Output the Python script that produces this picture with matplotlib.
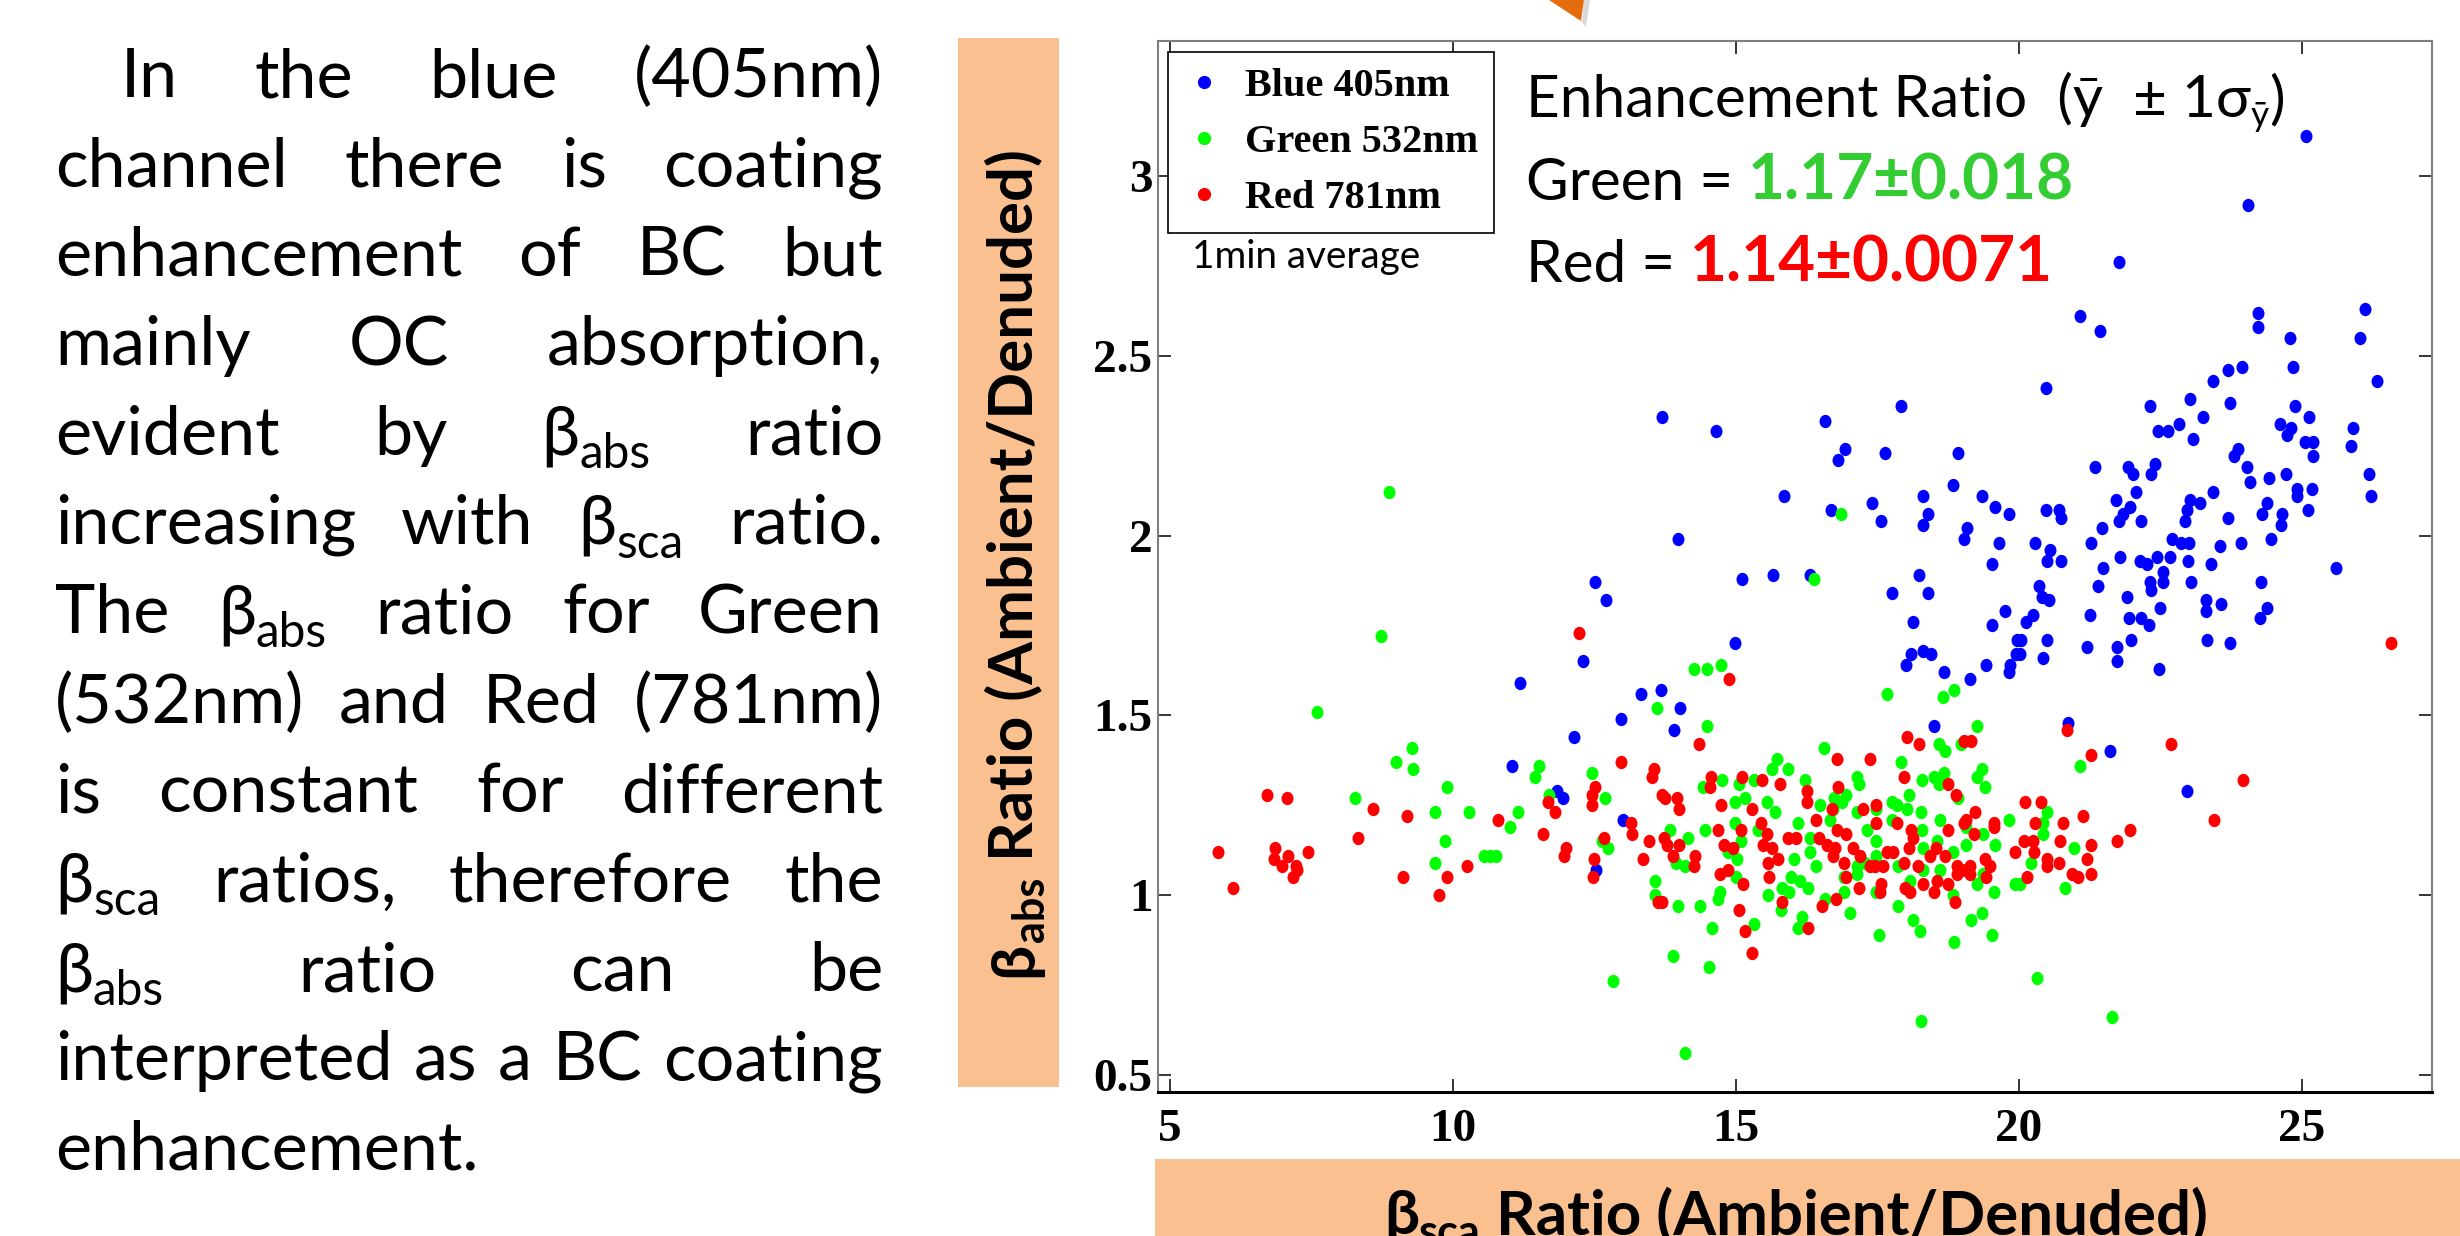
import matplotlib
matplotlib.use('Agg')
import matplotlib.pyplot as plt
from matplotlib.patches import Rectangle, Polygon
from matplotlib.path import Path
from matplotlib.transforms import Affine2D
from matplotlib.lines import Line2D

# ---------------- data ----------------
blue_x = [13.70, 14.64, 16.57, 17.92, 16.93, 16.80, 17.64, 18.93, 18.84, 15.85, 17.40, 16.68, 17.57,
          18.31, 18.40, 18.31, 19.35, 19.58, 19.83, 19.09, 19.03, 19.64, 13.98,
          25.07, 24.05, 21.76, 21.07, 21.43, 24.23, 24.22, 26.11, 26.03, 24.78, 24.84, 26.32, 20.48,
          23.69, 23.94, 23.42, 23.03, 23.72, 22.31, 23.25, 22.82, 22.46, 22.64, 23.07, 24.88, 25.13,
          24.61, 24.80, 24.74, 25.05, 25.19, 25.20, 25.90, 25.86, 23.87, 23.79, 24.03, 24.09, 24.41,
          24.72, 21.35, 21.93, 22.02, 22.40, 22.34, 26.18, 26.22, 24.92, 24.92, 25.18, 25.11, 21.72,
          22.07, 21.96, 21.84, 21.76, 22.15, 21.46, 21.28, 20.48, 20.71, 20.74, 23.03, 23.20, 22.96,
          22.93, 23.43, 23.69, 24.38, 24.29, 24.65, 24.63, 24.45, 23.92, 23.55, 22.70, 22.87, 23.01,
          20.28, 20.55, 21.78,
          20.49, 20.74, 22.14, 22.43, 22.67, 22.99, 23.40, 21.48, 22.26, 22.55, 22.31, 22.55, 22.34,
          23.04, 25.60, 24.28, 24.38, 24.26, 23.57, 23.30, 23.30, 23.33, 23.72, 20.35, 20.40, 20.53,
          21.39, 21.90, 21.25, 22.49, 22.15, 21.94, 22.30, 20.24, 20.12, 20.03, 20.49, 20.02, 20.42,
          21.21, 21.74, 21.98, 21.74, 22.48, 20.86, 21.60, 22.96,
          11.19, 12.29, 12.14, 11.04, 11.83, 11.94,
          12.51, 12.70, 15.11, 15.66, 16.31, 18.24, 17.75, 18.40, 19.52, 19.75, 19.53, 19.97, 19.94,
          19.84, 19.83, 19.42, 19.13, 18.68, 18.13, 18.30, 18.44, 18.09, 18.01, 14.98, 13.32, 13.67,
          14.01, 13.91, 12.96, 18.49, 13.01, 12.53]
blue_y = [2.33, 2.29, 2.32, 2.36, 2.24, 2.21, 2.23, 2.23, 2.14, 2.11, 2.09, 2.07, 2.04,
          2.11, 2.06, 2.03, 2.11, 2.08, 2.06, 2.02, 1.99, 1.98, 1.99,
          3.11, 2.92, 2.76, 2.61, 2.57, 2.62, 2.58, 2.63, 2.55, 2.55, 2.47, 2.43, 2.41,
          2.46, 2.47, 2.43, 2.38, 2.37, 2.36, 2.33, 2.31, 2.29, 2.29, 2.27, 2.36, 2.33,
          2.31, 2.30, 2.28, 2.26, 2.26, 2.22, 2.30, 2.25, 2.24, 2.22, 2.19, 2.15, 2.16,
          2.17, 2.19, 2.19, 2.17, 2.20, 2.17, 2.17, 2.11, 2.13, 2.11, 2.13, 2.07, 2.10,
          2.12, 2.08, 2.06, 2.04, 2.04, 2.02, 1.98, 2.07, 2.07, 2.05, 2.10, 2.09, 2.07,
          2.04, 2.12, 2.05, 2.09, 2.06, 2.06, 2.03, 1.99, 1.98, 1.97, 1.99, 1.98, 1.98,
          1.98, 1.96, 1.94,
          1.93, 1.93, 1.93, 1.94, 1.94, 1.93, 1.92, 1.91, 1.92, 1.90, 1.87, 1.87, 1.85,
          1.87, 1.91, 1.87, 1.80, 1.77, 1.81, 1.82, 1.79, 1.71, 1.70, 1.86, 1.83, 1.82,
          1.86, 1.83, 1.78, 1.80, 1.77, 1.77, 1.75, 1.78, 1.76, 1.71, 1.71, 1.67, 1.66,
          1.69, 1.69, 1.71, 1.65, 1.63, 1.48, 1.40, 1.29,
          1.59, 1.65, 1.44, 1.36, 1.29, 1.27,
          1.87, 1.82, 1.88, 1.89, 1.89, 1.89, 1.84, 1.84, 1.92, 1.79, 1.75, 1.71, 1.67,
          1.64, 1.62, 1.64, 1.60, 1.62, 1.76, 1.68, 1.67, 1.67, 1.64, 1.70, 1.56, 1.57,
          1.52, 1.46, 1.49, 1.47, 1.21, 1.07]

green_x = [8.87, 16.86, 21.08, 20.50, 20.43, 20.42, 20.97, 20.21, 20.81, 20.02, 20.31, 21.64,
           8.72, 7.59, 9.28, 9.00, 9.29, 9.90, 8.27, 9.69, 10.29, 9.86, 9.68, 10.54, 10.65, 10.76,
           11.14, 11.01, 11.52, 11.44, 11.70, 12.45, 16.37, 14.26, 14.48, 14.73, 13.60, 14.49, 17.66,
           18.66, 18.85, 19.26, 18.59, 18.70, 18.97, 16.56, 17.91, 15.72, 15.63, 15.92, 19.35, 19.25,
           19.40, 17.13, 17.18, 16.22, 12.69, 14.75, 14.42, 15.05, 15.32, 15.16, 14.99, 15.55, 15.69,
           18.28, 18.49, 18.68, 18.59, 18.06, 17.84, 17.75, 16.95, 16.74, 16.48, 18.92, 18.27, 18.60,
           19.83, 19.58, 19.93, 19.55, 19.52, 19.34, 19.16, 18.86, 18.84, 18.25, 18.13, 17.87, 17.52,
           17.01, 18.26, 14.10, 12.83, 13.88, 14.52, 14.58, 15.31, 16.10, 16.17, 16.58, 13.98, 14.36,
           14.69, 14.71, 13.57, 13.57, 15.57, 15.79, 15.81, 15.98, 16.13, 16.28, 15.94, 15.00, 16.02,
           16.42, 16.31, 16.90, 16.90, 17.13, 17.13, 17.48, 17.48, 17.87, 18.07, 18.31, 18.60, 19.25,
           19.37, 13.94, 14.10, 13.83, 14.16, 14.45, 12.74, 12.63, 14.99, 15.01, 14.86, 15.09, 15.39,
           16.10, 16.31, 16.66, 16.72, 16.87, 17.13, 17.31, 17.48, 17.48, 17.75, 18.02, 18.28, 18.31,
           18.55, 19.07, 19.07, 19.37, 18.84, 17.28]
green_y = [2.12, 2.06, 1.36, 1.23, 1.20, 1.17, 1.13, 1.09, 1.02, 1.03, 0.77, 0.66,
           1.72, 1.51, 1.41, 1.37, 1.35, 1.30, 1.27, 1.23, 1.23, 1.15, 1.09, 1.11, 1.11, 1.11,
           1.23, 1.19, 1.36, 1.33, 1.28, 1.34, 1.88, 1.63, 1.63, 1.64, 1.52, 1.47, 1.56,
           1.55, 1.57, 1.47, 1.42, 1.40, 1.42, 1.41, 1.37, 1.38, 1.35, 1.35, 1.35, 1.33,
           1.30, 1.33, 1.31, 1.32, 1.27, 1.32, 1.30, 1.31, 1.32, 1.27, 1.26, 1.26, 1.23,
           1.32, 1.33, 1.34, 1.31, 1.28, 1.25, 1.26, 1.28, 1.27, 1.25, 1.27, 1.23, 1.21,
           1.21, 1.14, 1.03, 1.01, 0.89, 0.95, 0.93, 0.87, 1.00, 0.90, 0.93, 0.97, 0.89,
           0.95, 0.65, 0.56, 0.76, 0.83, 0.80, 0.91, 0.92, 0.91, 0.94, 0.99, 0.97, 0.97,
           0.99, 1.01, 1.04, 1.00, 1.00, 0.96, 1.02, 1.05, 1.04, 1.02, 1.01, 1.05, 1.10,
           1.08, 1.12, 1.01, 1.05, 1.06, 1.08, 1.01, 1.11, 1.08, 1.04, 1.07, 1.07, 1.03,
           1.06, 1.09, 1.08, 1.18, 1.16, 1.18, 1.13, 1.15, 1.20, 1.10, 1.12, 1.15, 1.18,
           1.20, 1.16, 1.21, 1.24, 1.26, 1.23, 1.18, 1.15, 1.24, 1.21, 1.24, 1.18, 1.13,
           1.15, 1.19, 1.14, 1.17, 1.12, 1.09]

red_x = [26.58, 20.85, 22.69, 21.28, 23.95, 23.45, 20.11, 20.38, 20.28, 20.77, 21.13, 21.97, 21.73,
         21.27, 20.72, 20.08, 20.24, 20.27, 20.50, 20.50, 20.71, 21.20, 21.28, 20.93, 21.04, 20.15,
         12.22, 6.71, 7.07, 5.84, 6.12, 6.85, 6.83, 7.08, 6.97, 7.23, 7.18, 7.25, 7.44, 8.32, 8.58,
         9.18, 9.11, 9.89, 9.76, 10.25, 10.80, 11.68, 11.81, 11.59, 12.00, 11.97,
         14.88, 14.35, 12.96, 13.56, 13.51, 18.03, 18.24, 19.02, 19.16, 16.78, 17.36, 17.96, 12.51,
         12.45, 12.45, 13.69, 13.75, 13.96, 14.00, 14.55, 14.54, 15.11, 15.46, 15.77, 14.73, 15.29,
         16.26, 16.25, 16.80, 16.69, 17.25, 17.48, 18.74, 18.89, 19.23, 19.55, 19.55, 19.07, 19.02,
         19.21, 18.75, 19.93, 13.14, 13.17, 12.67, 12.49, 12.48, 13.47, 13.36, 13.72, 13.78, 14.00,
         13.88, 14.28, 14.26, 14.69, 14.78, 14.95, 15.08, 14.71, 14.85, 15.13, 15.44, 15.55, 15.48,
         15.63, 15.75, 15.57, 15.59, 15.91, 16.06, 16.42, 16.47, 16.60, 16.78, 16.95, 16.75, 16.72,
         16.91, 17.07, 17.19, 17.48, 17.37, 17.46, 17.60, 17.66, 17.78, 17.84, 18.09, 18.13, 17.96,
         18.06, 18.22, 18.43, 18.54, 18.69, 18.90, 18.99, 19.13, 19.40, 19.49, 19.42, 19.13, 18.90,
         16.95, 17.18, 17.57, 17.54, 17.99, 18.07, 18.31, 18.55, 18.49, 18.75, 18.87, 16.77, 16.52,
         15.81, 16.27, 15.05, 15.16, 15.29, 13.69, 13.63]
red_y = [1.70, 1.46, 1.42, 1.39, 1.32, 1.21, 1.26, 1.26, 1.20, 1.20, 1.22, 1.18, 1.15,
         1.14, 1.15, 1.15, 1.15, 1.12, 1.10, 1.08, 1.09, 1.10, 1.06, 1.06, 1.05, 1.05,
         1.73, 1.28, 1.27, 1.12, 1.02, 1.13, 1.10, 1.11, 1.08, 1.08, 1.05, 1.07, 1.12, 1.16, 1.24,
         1.22, 1.05, 1.05, 1.00, 1.08, 1.21, 1.26, 1.23, 1.17, 1.13, 1.11,
         1.60, 1.42, 1.37, 1.35, 1.33, 1.44, 1.42, 1.43, 1.43, 1.38, 1.38, 1.33, 1.30,
         1.28, 1.25, 1.28, 1.27, 1.27, 1.24, 1.33, 1.30, 1.33, 1.32, 1.31, 1.25, 1.24,
         1.29, 1.26, 1.30, 1.24, 1.24, 1.25, 1.31, 1.28, 1.23, 1.20, 1.19, 1.21, 1.20,
         1.17, 1.18, 1.12, 1.20, 1.17, 1.16, 1.10, 1.05, 1.15, 1.10, 1.16, 1.14, 1.14,
         1.11, 1.11, 1.08, 1.18, 1.14, 1.13, 1.18, 1.06, 1.07, 1.03, 1.20, 1.17, 1.14,
         1.13, 1.10, 1.09, 1.05, 1.16, 1.16, 1.21, 1.16, 1.14, 1.18, 1.17, 1.13, 1.11,
         1.09, 1.13, 1.11, 1.20, 1.08, 1.08, 1.08, 1.12, 1.12, 1.20, 1.18, 1.16, 1.09,
         1.13, 1.08, 1.11, 1.13, 1.11, 1.08, 1.07, 1.08, 1.10, 1.08, 1.05, 1.06, 1.06,
         1.05, 1.02, 1.03, 1.01, 1.02, 1.01, 1.03, 1.04, 1.01, 1.03, 0.98, 0.99, 0.97,
         0.98, 0.91, 0.96, 0.90, 0.84, 0.98, 0.98]

series_labels = ['Blue 405nm', 'Green 532nm', 'Red 781nm']
series_colors = ['#0000FF', '#00FF00', '#FF0000']
x_ticks = [5, 10, 15, 20, 25]
x_tick_labels = ['5', '10', '15', '20', '25']
y_ticks = [0.5, 1, 1.5, 2, 2.5, 3]
y_tick_labels = ['0.5', '1', '1.5', '2', '2.5', '3']
green_ratio = '1.17\u00b10.018'
red_ratio = '1.14\u00b10.0071'
note_text = '1min average'
paragraph = [
    "In the blue (405nm)",
    "channel there is coating",
    "enhancement of BC but",
    "mainly OC absorption,",
    "evident by \u03b2_abs ratio",
    "increasing with \u03b2_sca ratio.",
    "The \u03b2_abs ratio for Green",
    "(532nm) and Red (781nm)",
    "is constant for different",
    "\u03b2_sca ratios, therefore the",
    "\u03b2_abs ratio can be",
    "interpreted as a BC coating",
    "enhancement.",
]

# ---------------- figure helpers ----------------
W, H = 2460, 1236
fig = plt.figure(figsize=(W / 100, H / 100), dpi=100)
fig.patch.set_facecolor('white')
renderer = fig.canvas.get_renderer()
SANS = ['Lato', 'Open Sans', 'DejaVu Sans']
SERIF = ['Liberation Serif', 'DejaVu Serif']
PX = 100 / 72.0
ORANGE = '#FAC090'


def fx(x):
    return x / W


def fy(y):
    return 1 - y / H


def _w(s, size, weight='normal', family=SANS):
    t = fig.text(0, 0, s, fontsize=size, fontweight=weight, family=family)
    w = t.get_window_extent(renderer).width
    t.remove()
    return w


def adv(s, size, weight='normal', family=SANS):
    return _w('|' + s + '|', size, weight, family) - _w('||', size, weight, family)


def draw_runs(runs, x, y, rotation=0, family=SANS):
    pos = 0.0
    for text, size, weight, color, dy in runs:
        if rotation == 0:
            px, py = x + pos, y + dy
        else:
            px, py = x + dy, y - pos
        fig.text(fx(px), fy(py), text, fontsize=size, fontweight=weight, color=color,
                 family=family, ha='left', va='baseline', rotation=rotation,
                 rotation_mode='anchor')
        pos += adv(text, size, weight, family)
    return pos


def runs_width(runs, family=SANS):
    return sum(adv(t, s, w, family) for t, s, w, c, d in runs)


# ---------------- left paragraph (justified) ----------------
PS = 40 * 423 / adv('enhancement.', 40)


def word_runs(word, size):
    if '_' in word:
        base, sub = word.split('_', 1)
        return [(base, size, 'normal', 'black', 0),
                (sub, size * 0.7, 'normal', 'black', size * PX * 0.2)]
    return [(word, size, 'normal', 'black', 0)]


P_LEFT, P_RIGHT, P_INDENT = 55, 883, 121
P_BASE0, P_STEP = 97, 89.4
for i, line in enumerate(paragraph):
    words = [word_runs(w, PS) for w in line.split()]
    widths = [runs_width(r) for r in words]
    left = P_INDENT if i == 0 else P_LEFT
    y = P_BASE0 + i * P_STEP
    if i == len(paragraph) - 1 or len(words) == 1:
        gap = adv(' ', PS)
    else:
        gap = (P_RIGHT - left - sum(widths)) / (len(words) - 1)
    x = left
    for r, w in zip(words, widths):
        draw_runs(r, x, y)
        x += w + gap

# ---------------- orange label boxes ----------------
fig.add_artist(Rectangle((fx(958), fy(1087)), 101 / W, 1049 / H, transform=fig.transFigure,
                         facecolor=ORANGE, edgecolor='none', zorder=0))
fig.add_artist(Rectangle((fx(1155), fy(1240)), (W - 1155) / W, 81 / H, transform=fig.transFigure,
                         facecolor=ORANGE, edgecolor='none', zorder=0))

LS0 = 40


def label_runs(sub, size):
    return [('\u03b2', size, 'bold', 'black', 0),
            (sub, size * 0.7, 'bold', 'black', size * PX * 0.2),
            (' Ratio (Ambient/Denuded)', size, 'bold', 'black', 0)]


LS = LS0 * 826 / runs_width(label_runs('abs', LS0))
ylab = label_runs('abs', LS)
L = runs_width(ylab)
draw_runs(ylab, 1032, 563 + L / 2, rotation=90)
xlab = label_runs('sca', LS)
L = runs_width(xlab)
draw_runs(xlab, 1796 - L / 2, 1234)

# orange arrow tip at the top
fig.add_artist(Polygon([(fx(1584), fy(0)), (fx(1590), fy(0)), (fx(1586), fy(27)), (fx(1582), fy(22))],
                       closed=True, transform=fig.transFigure, facecolor='#D9D9D9',
                       edgecolor='none', zorder=1))
fig.add_artist(Polygon([(fx(1549), fy(0)), (fx(1584), fy(0)), (fx(1581), fy(21))],
                       closed=True, transform=fig.transFigure, facecolor='#E46C0A',
                       edgecolor='none', zorder=2))

# ---------------- scatter axes ----------------
ax = fig.add_axes([fx(1158), fy(1092), (2432 - 1158) / W, (1092 - 41) / H])
ell = Path.unit_circle().transformed(Affine2D().scale(0.9, 1.0))
for xs, ys, col, lab in [(blue_x, blue_y, series_colors[0], series_labels[0]),
                         (green_x, green_y, series_colors[1], series_labels[1]),
                         (red_x, red_y, series_colors[2], series_labels[2])]:
    ax.scatter(xs, ys, s=92, marker=ell, c=col, linewidths=0, label=lab)

ax.set_xlim(4.788, 27.297)
ax.set_ylim(0.4527, 3.3754)
ax.set_xticks(x_ticks)
ax.set_xticklabels(x_tick_labels)
ax.set_yticks(y_ticks)
ax.set_yticklabels(y_tick_labels)
for lab in ax.get_xticklabels() + ax.get_yticklabels():
    lab.set_fontfamily(SERIF)
    lab.set_fontweight('bold')
    lab.set_fontsize(34)
ax.tick_params(direction='in', length=9.4, width=1.1, top=True, right=True, colors='black')
ax.tick_params(axis='x', pad=12)
ax.tick_params(axis='y', pad=4)
for side in ['left', 'top', 'right']:
    ax.spines[side].set_color('#7F7F7F')
    ax.spines[side].set_linewidth(1.5)
ax.spines['bottom'].set_color('black')
ax.spines['bottom'].set_linewidth(2.2)

handles = [Line2D([], [], ls='none', marker='o', ms=9.5, mfc=c, mec='none') for c in series_colors]
leg = ax.legend(handles, series_labels, loc='upper left', bbox_to_anchor=(fx(1168), fy(52)),
                bbox_transform=fig.transFigure, borderaxespad=0,
                prop=dict(family=SERIF, weight='bold', size=29),
                handlelength=1.0, handletextpad=0.5, borderpad=0.4, labelspacing=0.46,
                frameon=True, fancybox=False, edgecolor='black', framealpha=1)
leg.get_frame().set_linewidth(1.2)

# ---------------- annotation texts ----------------
AS = 40 * 501 / adv('Enhancement Ratio', 40)
BS = AS * 1.09
draw_runs([('Enhancement Ratio  (\u0233  \u00b1 1\u03c3', AS, 'normal', 'black', 0),
           ('\u0233', AS * 0.6, 'normal', 'black', AS * PX * 0.15),
           (')', AS, 'normal', 'black', 0)], 1526, 117)
draw_runs([('Green = ', AS, 'normal', 'black', 0),
           (green_ratio, BS, 'bold', '#33CC33', 0)], 1526, 200)
draw_runs([('Red = ', AS, 'normal', 'black', 0),
           (red_ratio, BS, 'bold', '#FF0000', 0)], 1526, 282)

MS = 30 * 228 / adv(note_text, 30)
draw_runs([(note_text, MS, 'normal', 'black', 0)], 1192, 268)

fig.savefig('out.png', dpi=100)
